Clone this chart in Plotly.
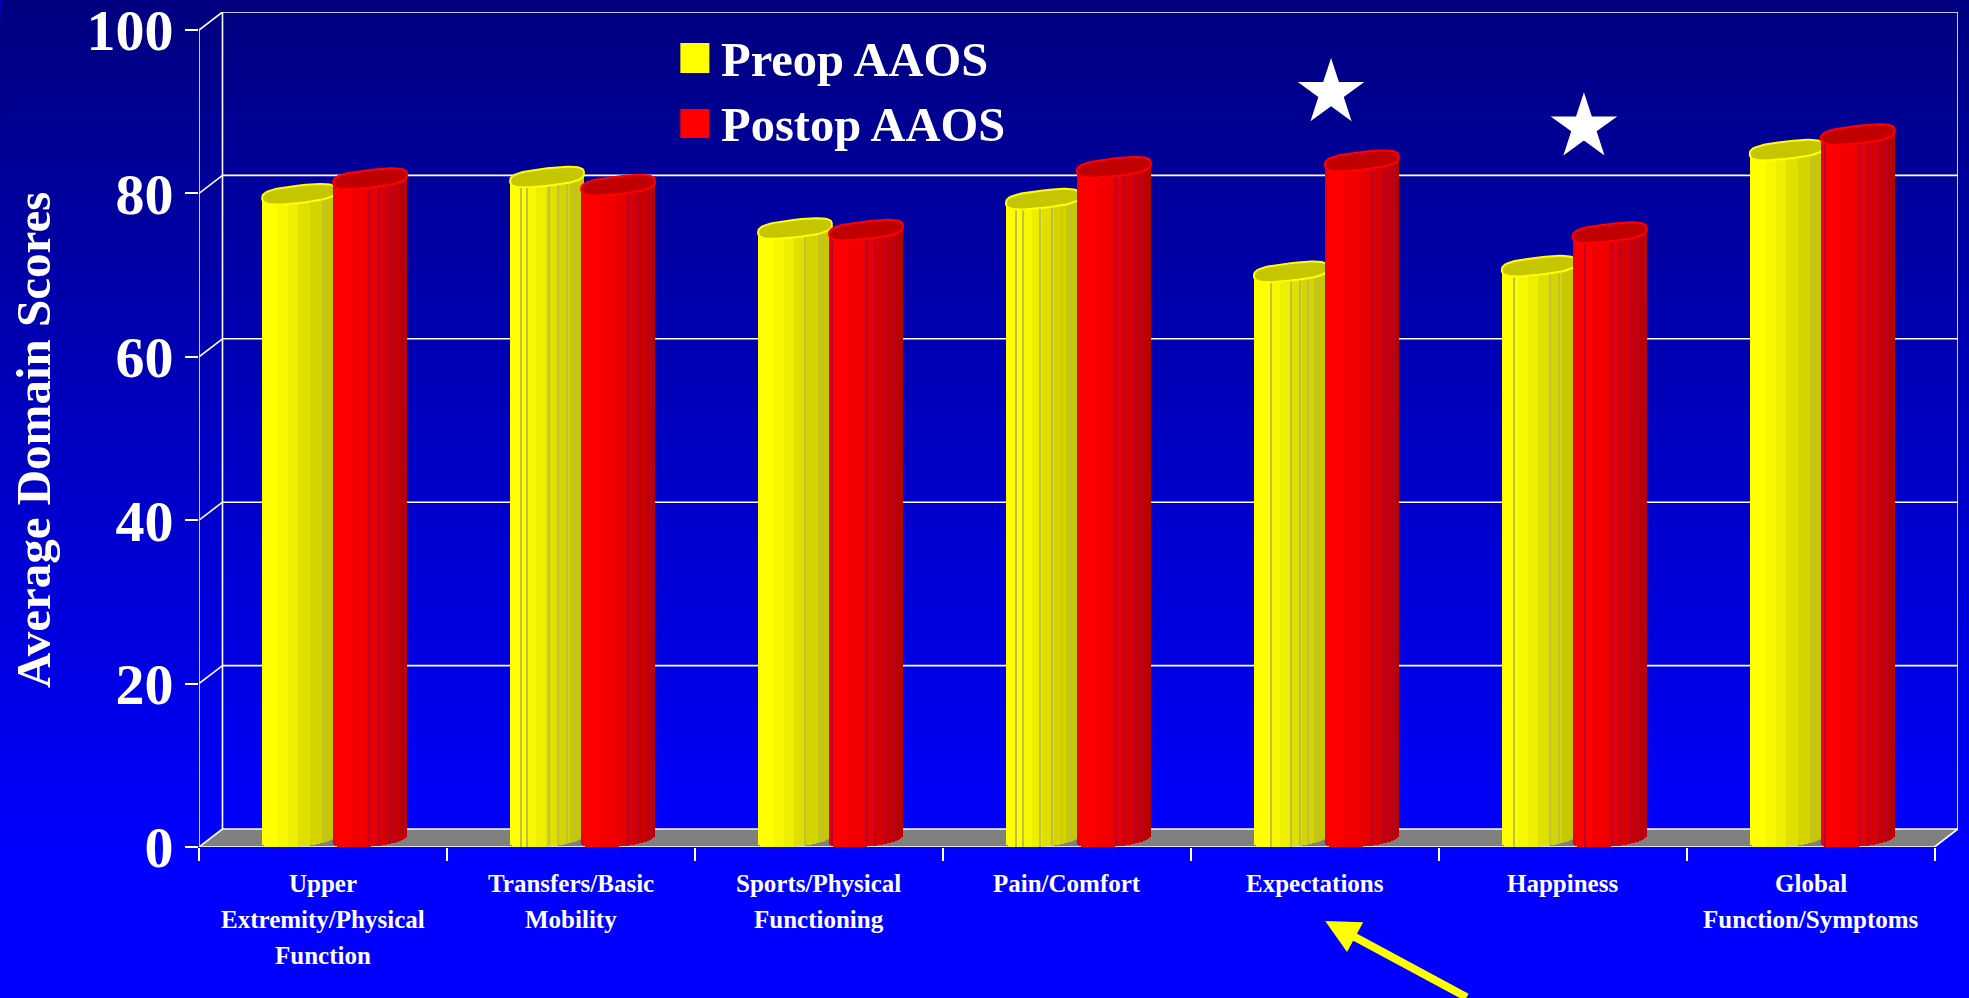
import math
import plotly.graph_objects as go

# Domain scores per category
categories = [
    ["Upper", "Extremity/Physical", "Function"],
    ["Transfers/Basic", "Mobility"],
    ["Sports/Physical", "Functioning"],
    ["Pain/Comfort"],
    ["Expectations"],
    ["Happiness"],
    ["Global", "Function/Symptoms"],
]
preop_aaos = [78.8, 80.9, 74.6, 78.2, 69.3, 70.0, 84.2]
postop_aaos = [80.7, 79.9, 74.4, 82.1, 82.9, 74.1, 86.1]
y_ticks = [0, 20, 40, 60, 80, 100]
y_title = "Average Domain Scores"
series_names = ["Preop AAOS", "Postop AAOS"]

# Significance stars, in axis units (category position, score)
star_x = [4.566, 5.586]
star_y = [92.3, 88.1]

# Facet seams on each column, as fractions of the column width
preop_facets = [
    [0.84],
    [0.14, 0.23, 0.53, 0.65, 0.77, 0.87],
    [0.63, 0.85],
    [0.14, 0.23, 0.46, 0.62, 0.75, 0.87],
    [0.23, 0.50, 0.62, 0.73, 0.84],
    [0.16, 0.65, 0.77, 0.86],
    [0.84],
]
postop_facets = [
    [0.49, 0.61, 0.74, 0.83, 0.97],
    [0.63, 0.75, 0.87, 0.95],
    [0.04, 0.50, 0.62, 0.74, 0.85],
    [0.53, 0.65, 0.77, 0.87],
    [0.64, 0.77, 0.85, 0.94],
    [0.16, 0.53, 0.65, 0.77, 0.86, 0.96],
    [0.06, 0.53, 0.65, 0.77, 0.88],
]

# Page geometry (pixels)
PAGE_W, PAGE_H = 1969, 998
LEFT = 198.5
FLOOR = 847.0
CAT_PX = 248.0
UNIT_PX = 8.17
DEPTH_PX_X, DEPTH_PX_Y = 23.5, 18.0

DX = DEPTH_PX_X / CAT_PX
DY = DEPTH_PX_Y / UNIT_PX
N_CAT = len(categories)
RIGHT = LEFT + CAT_PX * (N_CAT + DX)
TOP = FLOOR - UNIT_PX * (100 + DY)


def paper_x(px):
    return (px - LEFT) / (RIGHT - LEFT)


def paper_y(px):
    return (FLOOR - px) / (FLOOR - TOP)


# Column shape, pixels
HALF_W = 37.0
OVAL_H = 8.7
OVAL_SHEAR = 4.0
SERIES_SHIFT = 35.5
N_STRIPS = 37
MID_X = DX / 2
MID_Y = DY / 2

YELLOW_BANDS = [(0.22, "#ffff00"), (0.35, "#f7f700"), (0.50, "#eeee00"),
                (0.65, "#e0e000"), (0.80, "#d4d400"), (1.01, "#c8c800")]
RED_BANDS = [(0.03, "#e80000"), (0.25, "#ff0000"), (0.45, "#f40000"), (0.60, "#e80000"),
             (0.75, "#d80000"), (0.90, "#c80000"), (1.01, "#b80000")]


def band_colour(bands, f):
    for limit, colour in bands:
        if f < limit:
            return colour
    return bands[-1][1]


def lower_edge(u):
    """Offset of the column's lower outline from its centre line, in score units."""
    return (-OVAL_H * (1 - abs(u) ** 2.6) ** (1 / 2.6) + OVAL_SHEAR * u) / UNIT_PX


def column_traces(values, facets, bands, name, top_fill, top_line, facet_colour, shift_px, xa, ya):
    traces = []
    strip_w = 2 * HALF_W / N_STRIPS
    centres = [i + 0.5 + MID_X + shift_px / CAT_PX for i in range(N_CAT)]

    # Body: narrow bars stepping through the shading bands
    for s in range(N_STRIPS):
        f = (s + 0.5) / N_STRIPS
        u = 2 * f - 1
        base = MID_Y + lower_edge(u)
        traces.append(go.Bar(
            x=[c + u * HALF_W / CAT_PX for c in centres],
            y=[v + MID_Y - base for v in values],
            base=[base] * N_CAT,
            width=(strip_w + 0.4) / CAT_PX,
            name=name,
            marker=dict(color=band_colour(bands, f), line=dict(width=0)),
            showlegend=False, hoverinfo="skip", xaxis=xa, yaxis=ya,
        ))

    # Facet seams
    seam_x, seam_y, seam_base = [], [], []
    for i, seams in enumerate(facets):
        for f in seams:
            u = 2 * f - 1
            base = MID_Y + lower_edge(u)
            seam_x.append(centres[i] + u * HALF_W / CAT_PX)
            seam_y.append(values[i] + MID_Y - base)
            seam_base.append(base)
    traces.append(go.Bar(
        x=seam_x, y=seam_y, base=seam_base, width=1.0 / CAT_PX,
        marker=dict(color=facet_colour, line=dict(width=0)),
        showlegend=False, hoverinfo="skip", xaxis=xa, yaxis=ya,
    ))

    # Column tops: rounded, sheared ovals
    for c, v in zip(centres, values):
        xs, ys = [], []
        for k in range(73):
            t = 2 * math.pi * k / 72
            u = math.copysign(abs(math.cos(t)) ** 0.7, math.cos(t))
            w = math.copysign(abs(math.sin(t)) ** 0.7, math.sin(t))
            xs.append(c + u * HALF_W / CAT_PX)
            ys.append(v + MID_Y + (OVAL_H * w + OVAL_SHEAR * u) / UNIT_PX)
        traces.append(go.Scatter(
            x=xs, y=ys, mode="lines", fill="toself", fillcolor=top_fill,
            line=dict(color=top_line, width=2), showlegend=False,
            hoverinfo="skip", xaxis=xa, yaxis=ya,
        ))
    return traces


fig = go.Figure()
for tr in column_traces(preop_aaos, preop_facets, YELLOW_BANDS, series_names[0],
                        "#c6c600", "#ffff00", "#c0c040", -SERIES_SHIFT, "x", "y"):
    fig.add_trace(tr)
# The postop columns live on an overlaid subplot so they stack above the preop tops
for tr in column_traces(postop_aaos, postop_facets, RED_BANDS, series_names[1],
                        "#c00000", "#ff0000", "#b80030", SERIES_SHIFT, "x2", "y2"):
    fig.add_trace(tr)
fig.add_trace(go.Scatter(
    x=star_x, y=star_y, mode="markers",
    marker=dict(symbol="star", size=50, color="#ffffff", line=dict(width=0)),
    showlegend=False, hoverinfo="skip", xaxis="x2", yaxis="y2",
))

shapes = []

# Page background: darkest navy at the top fading to pure blue
GRAD_END = 850.0
GRAD_STEPS = 127
for k in range(GRAD_STEPS):
    y_px = GRAD_END * k / GRAD_STEPS
    shapes.append(dict(
        type="rect", xref="paper", yref="paper", layer="below",
        x0=paper_x(0), x1=paper_x(PAGE_W), y0=paper_y(y_px), y1=paper_y(PAGE_H),
        fillcolor=f"rgb(0,0,{128 + k})", line=dict(width=0),
    ))


def frame_line(x0, y0, x1, y1):
    return dict(type="line", xref="x", yref="y", layer="below",
                x0=x0, y0=y0, x1=x1, y1=y1, line=dict(color="#ffffff", width=1.6))


# Floor
shapes.append(dict(
    type="path", xref="x", yref="y", layer="below",
    path=f"M 0 0 L {N_CAT} 0 L {N_CAT + DX} {DY} L {DX} {DY} Z",
    fillcolor="#808080", line=dict(width=0),
))
# Back wall, side wall and front edges
for v in y_ticks:
    shapes.append(frame_line(DX, v + DY, N_CAT + DX, v + DY))
    shapes.append(frame_line(0, v, DX, v + DY))
shapes.append(frame_line(DX, DY, DX, 100 + DY))
shapes.append(frame_line(N_CAT + DX, DY, N_CAT + DX, 100 + DY))
shapes.append(frame_line(0, 0, 0, 100))
shapes.append(frame_line(0, 0, N_CAT, 0))
shapes.append(frame_line(N_CAT, 0, N_CAT + DX, DY))

# Legend swatches
LEGEND_X0, LEGEND_X1 = 680, 709
for (y0, y1), colour in zip([(43, 73), (109, 138)], ["#ffff00", "#ff0000"]):
    shapes.append(dict(
        type="rect", xref="paper", yref="paper", layer="above",
        x0=paper_x(LEGEND_X0), x1=paper_x(LEGEND_X1), y0=paper_y(y0), y1=paper_y(y1),
        fillcolor=colour, line=dict(width=0),
    ))

SERIF = "Liberation Serif"
annotations = []

# Category labels, one annotation per line for the wide line spacing
LINE_0 = 36
LINE_STEP = 36
for i, lines in enumerate(categories):
    for j, text in enumerate(lines):
        annotations.append(dict(
            x=i + 0.5, y=0, xref="x", yref="y", text=text, showarrow=False,
            xanchor="center", yanchor="middle", yshift=-(LINE_0 + j * LINE_STEP),
            font=dict(family=SERIF, size=25, color="#ffffff", weight="bold"),
        ))

# Legend text
for name, y_px in zip(series_names, [59, 124]):
    annotations.append(dict(
        x=paper_x(719), y=paper_y(y_px), xref="paper", yref="paper", text=name,
        showarrow=False, xanchor="left", yanchor="middle",
        font=dict(family=SERIF, size=48.5, color="#ffffff", weight="bold"),
    ))

# Value-axis title
annotations.append(dict(
    x=paper_x(32.5), y=paper_y(440), xref="paper", yref="paper", text=y_title,
    showarrow=False, textangle=-90, xanchor="center", yanchor="middle",
    font=dict(family=SERIF, size=49, color="#ffffff", weight="bold"),
))

# Arrow pointing up at the Expectations label
annotations.append(dict(
    x=paper_x(1325), y=paper_y(921), xref="paper", yref="paper", text="",
    showarrow=True, ax=143, ay=80, axref="pixel", ayref="pixel",
    arrowcolor="#ffff00", arrowwidth=8, arrowhead=2, arrowsize=0.85,
))

axis_common = dict(showgrid=False, zeroline=False, showline=False)
x_range = [0, N_CAT + DX]
y_range = [0, 100 + DY]
fig.update_layout(
    width=PAGE_W, height=PAGE_H, autosize=False,
    margin=dict(l=LEFT, r=PAGE_W - RIGHT, t=TOP, b=PAGE_H - FLOOR, pad=0, autoexpand=False),
    paper_bgcolor="#0000ff", plot_bgcolor="rgba(0,0,0,0)",
    barmode="overlay", bargap=0, showlegend=False,
    shapes=shapes, annotations=annotations,
    xaxis=dict(range=x_range, tickmode="array", tickvals=list(range(N_CAT + 1)),
               showticklabels=False, ticks="outside", ticklen=13, tickwidth=1.6,
               tickcolor="#ffffff", **axis_common),
    yaxis=dict(range=y_range, tickmode="array", tickvals=y_ticks,
               ticktext=[str(v) for v in y_ticks], ticks="outside", ticklen=13,
               tickwidth=1.6, tickcolor="#ffffff", ticklabeloverflow="allow",
               tickfont=dict(family=SERIF, size=58, color="#ffffff", weight="bold"),
               **axis_common),
    xaxis2=dict(range=x_range, overlaying="x", visible=False, **axis_common),
    yaxis2=dict(range=y_range, overlaying="y", visible=False, **axis_common),
)

fig.write_html("out.html")
